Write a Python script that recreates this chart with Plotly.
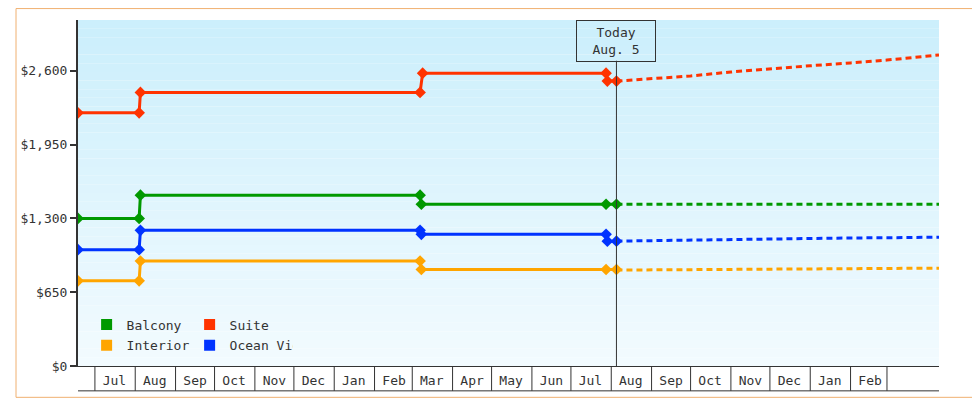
import plotly.graph_objects as go
import pandas as pd

# ---- data ----
suite_x = ["2023-06-18", "2023-08-04", "2023-08-05", "2024-03-07", "2024-03-09", "2024-07-28", "2024-07-29", "2024-08-05"]
suite_y = [2230, 2230, 2410, 2410, 2580, 2580, 2510, 2510]
balcony_x = ["2023-06-18", "2023-08-04", "2023-08-05", "2024-03-07", "2024-03-08", "2024-07-28", "2024-08-05"]
balcony_y = [1300, 1300, 1505, 1505, 1425, 1425, 1425]
ocean_x = ["2023-06-18", "2023-08-04", "2023-08-05", "2024-03-07", "2024-03-08", "2024-07-28", "2024-07-29", "2024-08-05"]
ocean_y = [1025, 1025, 1195, 1195, 1160, 1160, 1100, 1100]
interior_x = ["2023-06-18", "2023-08-04", "2023-08-05", "2024-03-07", "2024-03-08", "2024-07-28", "2024-08-05"]
interior_y = [750, 750, 925, 925, 850, 850, 850]

fc_x = ["2024-08-05", "2024-09-01", "2024-10-01", "2024-11-01", "2024-12-01", "2025-01-01", "2025-02-01", "2025-03-01", "2025-04-10"]
fc_suite = [2510, 2530, 2555, 2590, 2620, 2645, 2670, 2695, 2740]
fc_balcony = [1425] * 9
fc_ocean = [1100, 1105, 1110, 1112, 1122, 1125, 1128, 1130, 1135]
fc_interior = [845, 847, 850, 852, 855, 857, 859, 860, 862]

month_starts = pd.date_range("2023-07-01", "2025-03-01", freq="MS")
month_labels = [d.strftime("%b") for d in month_starts[:-1]]
month_mids = [d + pd.Timedelta(days=15) for d in month_starts[:-1]]

y_ticks = [0, 650, 1300, 1950, 2600]
y_labels = ["$0", "$650", "$1,300", "$1,950", "$2,600"]
today = "2024-08-05"

series = [
    ("Balcony", "#009900", balcony_x, balcony_y, fc_balcony, "legend"),
    ("Suite", "#ff3300", suite_x, suite_y, fc_suite, "legend"),
    ("Interior", "#ffa500", interior_x, interior_y, fc_interior, "legend2"),
    ("Ocean View", "#0033ff", ocean_x, ocean_y, fc_ocean, "legend2"),
]

FONT = "DejaVu Sans Mono"
fig = go.Figure()
for name, col, xs, ys, fc, lg in series:
    fig.add_trace(go.Scatter(x=xs, y=ys, mode="lines+markers", line=dict(color=col, width=3),
                             marker=dict(symbol="diamond", size=9, color=col), showlegend=False))
    fig.add_trace(go.Scatter(x=fc_x, y=fc, mode="lines", line=dict(color=col, width=3, dash="6px,4px"),
                             showlegend=False))
    fig.add_trace(go.Scatter(x=[None], y=[None], mode="markers", name=name, legend=lg,
                             marker=dict(symbol="square", size=11, color=col)))

W, H = 972, 392
L, R, T, B = 63, 41, 12, 32
pw, ph = W - L - R, H - T - B
shapes = []
n = 40
c0, c1 = (204, 239, 252), (242, 251, 255)
for i in range(n):
    f = i / (n - 1)
    c = tuple(int(c0[k] + (c1[k] - c0[k]) * f) for k in range(3))
    shapes.append(dict(type="rect", xref="paper", yref="paper", x0=0, x1=1,
                       y0=1 - (i + 1) / n, y1=1 - i / n, line=dict(width=0),
                       fillcolor="rgb(%d,%d,%d)" % c, layer="below"))
cell_h = 25 / ph
for d in month_starts:
    shapes.append(dict(type="line", xref="x", yref="paper", x0=d, x1=d, y0=0, y1=-cell_h,
                       line=dict(color="#333", width=1)))
shapes.append(dict(type="line", xref="paper", yref="paper", x0=0, x1=1, y0=-cell_h, y1=-cell_h,
                   line=dict(color="#333", width=1)))
shapes.append(dict(type="line", xref="x", yref="paper", x0=today, x1=today, y0=0, y1=1 - 41 / ph,
                   line=dict(color="#333", width=1)))
shapes.append(dict(type="rect", xref="paper", yref="paper", x0=-(L - 0.5) / pw, x1=1 + (R - 0.5) / pw,
                   y0=-(B - 0.5) / ph, y1=1 + (T - 0.5) / ph, line=dict(color="#f0b070", width=1)))

fig.update_layout(
    width=W, height=H, margin=dict(l=L, r=R, t=T, b=B),
    paper_bgcolor="white", plot_bgcolor="rgba(0,0,0,0)",
    font=dict(family=FONT, size=13, color="#333"),
    shapes=shapes,
    xaxis=dict(type="date", range=["2023-06-18", "2025-04-10"], tickvals=month_mids, ticktext=month_labels,
               showgrid=False, zeroline=False, showline=True, linecolor="#333", linewidth=1,
               ticks="", ticklabelstandoff=2, tickfont=dict(size=13)),
    yaxis=dict(range=[0, 3048], tickvals=y_ticks, ticktext=y_labels, showgrid=False, zeroline=False,
               showline=True, linecolor="#333", linewidth=2, ticks="outside", ticklen=6, tickwidth=2,
               tickcolor="#333", tickfont=dict(size=13)),
    legend=dict(orientation="h", x=0.01, y=0.12, xanchor="left", yanchor="middle", entrywidth=58,
                bgcolor="rgba(0,0,0,0)", font=dict(size=13), itemwidth=30),
    legend2=dict(orientation="h", x=0.01, y=0.06, xanchor="left", yanchor="middle", entrywidth=58,
                 bgcolor="rgba(0,0,0,0)", font=dict(size=13), itemwidth=30),
    annotations=[dict(x=today, y=1, xref="x", yref="paper", yanchor="top", text="Today<br>Aug. 5",
                      showarrow=False, bordercolor="#333", borderwidth=1, borderpad=4,
                      bgcolor="rgba(0,0,0,0)", font=dict(size=13, color="#333"), width=70)],
)
fig.write_html("out.html")
